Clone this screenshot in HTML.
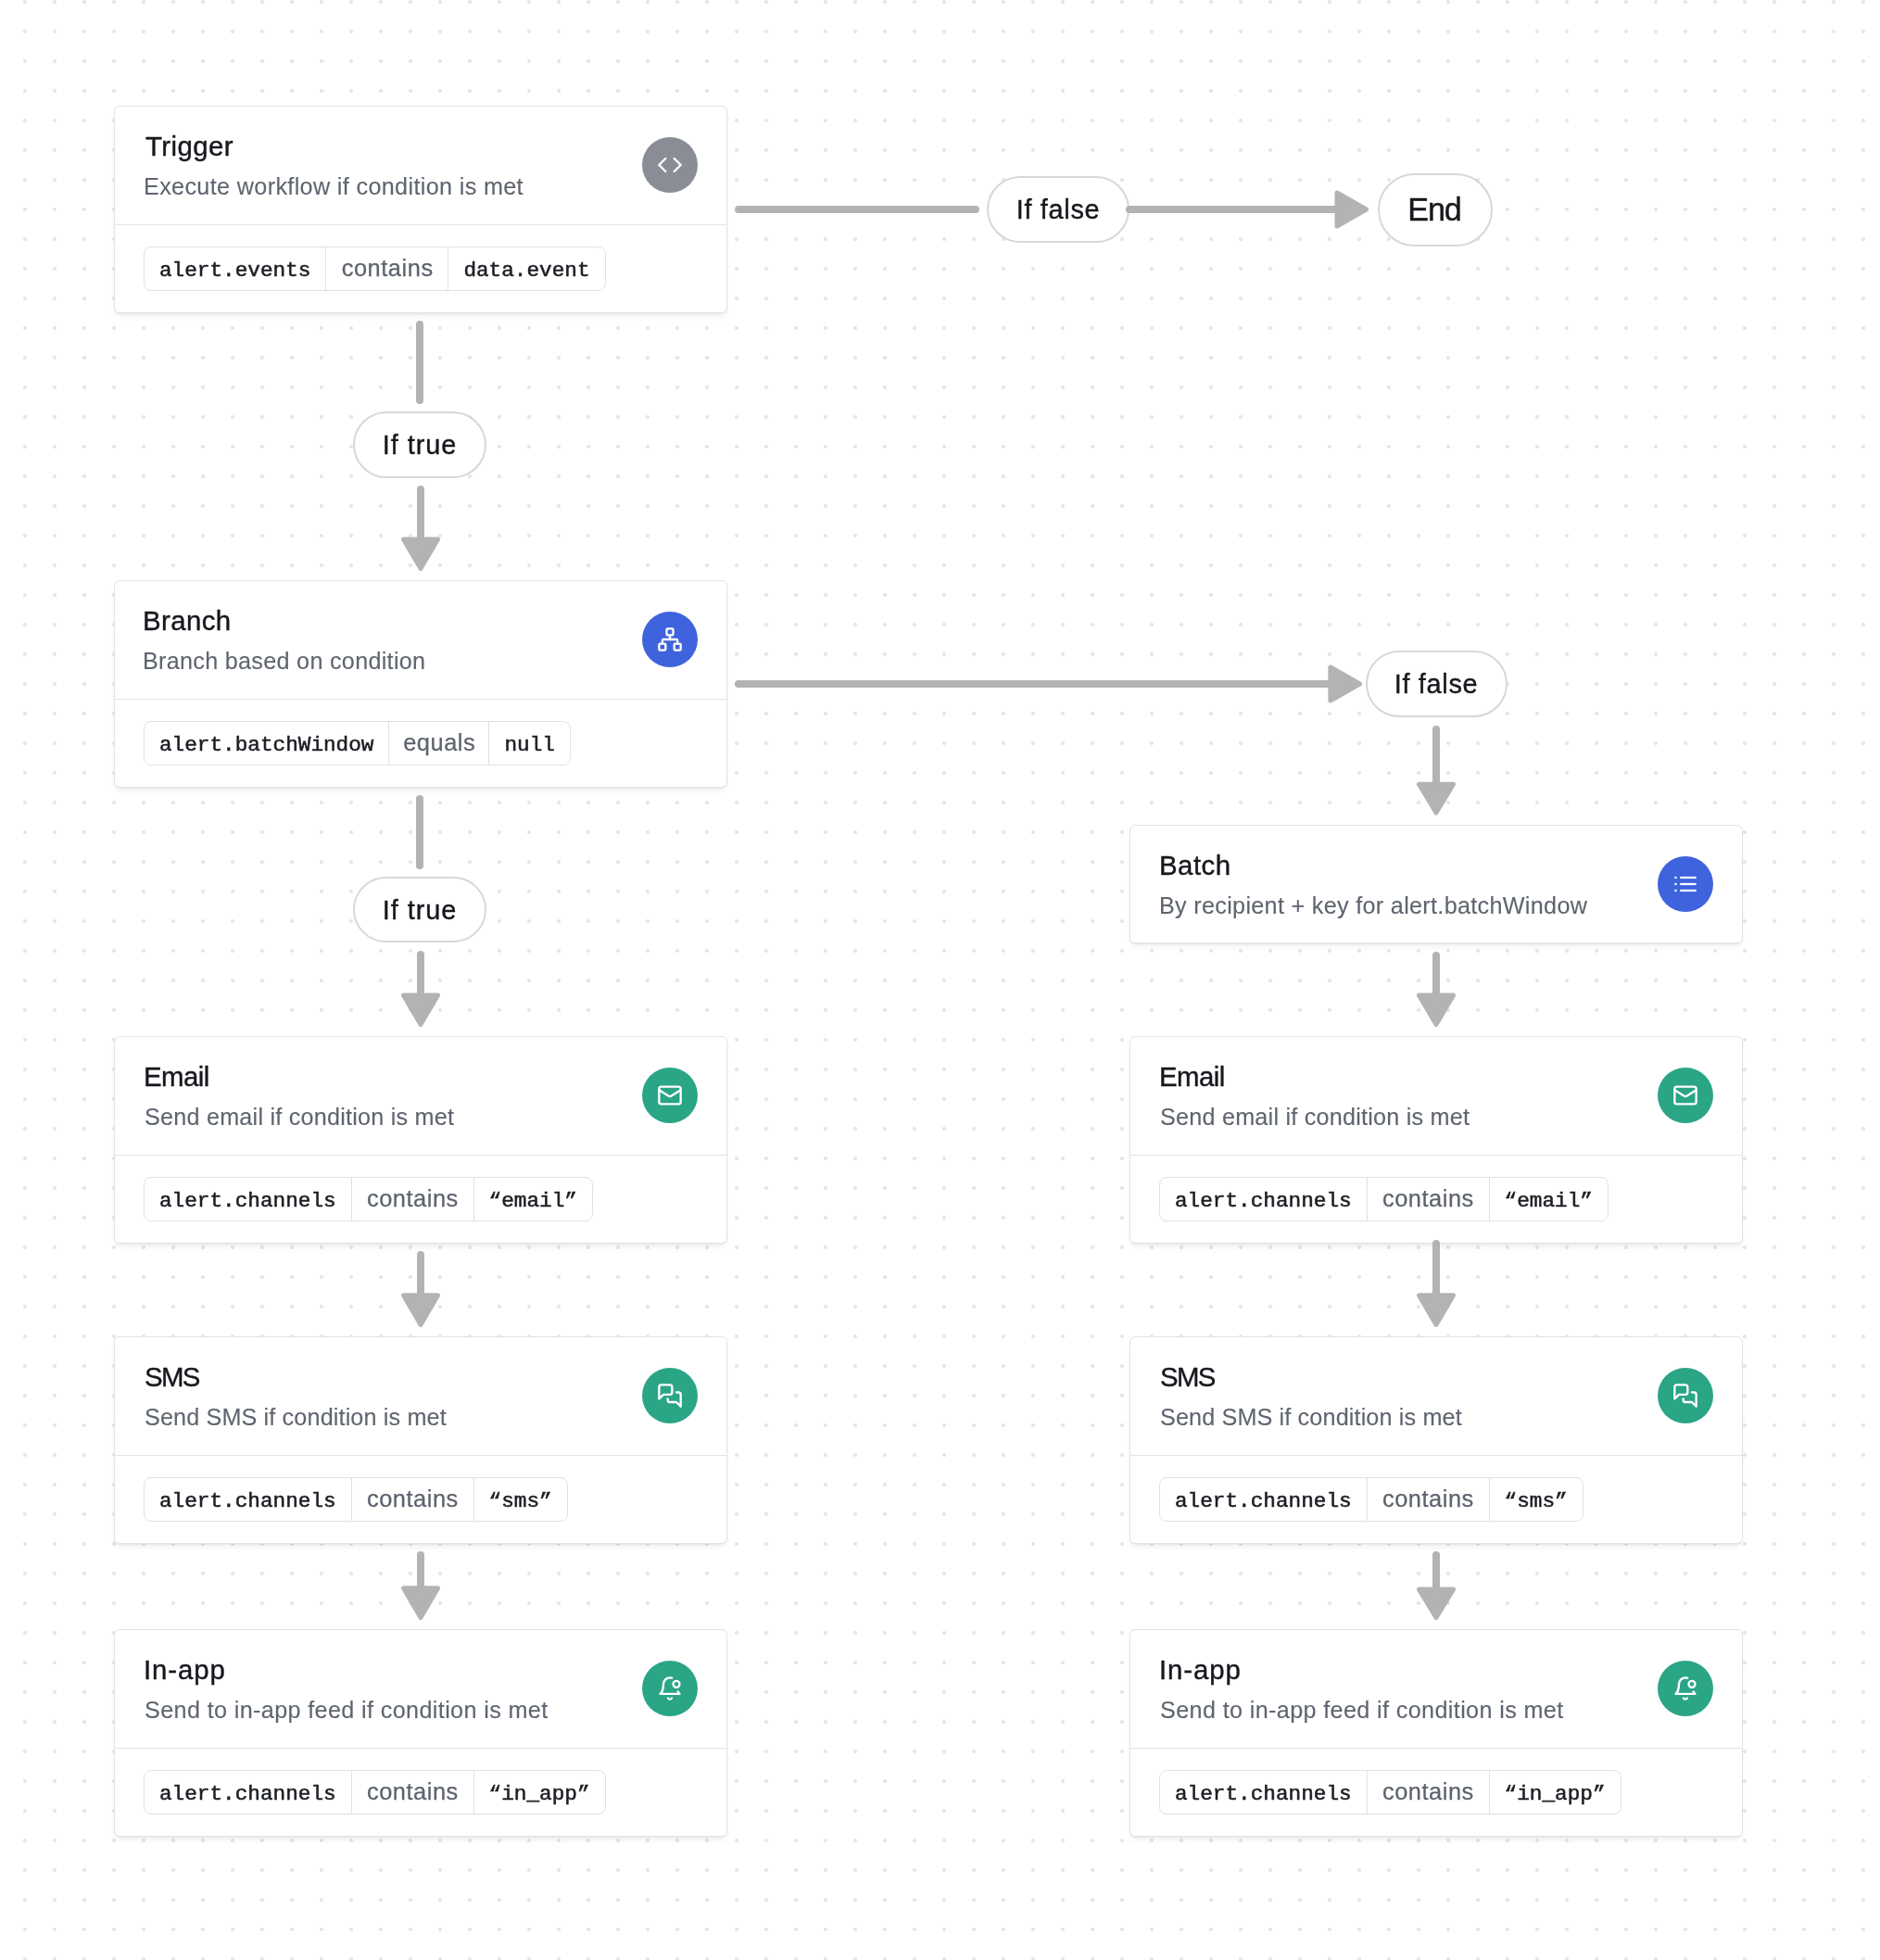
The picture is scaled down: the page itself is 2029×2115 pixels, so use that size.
<!DOCTYPE html>
<html><head><meta charset="utf-8"><title>Workflow</title><style>
html,body{margin:0;padding:0}
body{width:2029px;height:2115px;position:relative;overflow:hidden;background-color:#ffffff;
 background-image:radial-gradient(circle at 16px 16px,#e6e6e9 0,#e6e6e9 1.6px,rgba(230,230,233,0) 2.4px);
 background-size:32px 32px;background-position:11px -14px}
.t{position:absolute;white-space:nowrap;line-height:normal;will-change:transform}
.card{position:absolute;box-sizing:border-box;border:1px solid #e2e3e7;background:#ffffff;border-radius:6px;
 box-shadow:0 1px 1px rgba(0,0,0,0.04),0 5px 6px -2px rgba(0,0,0,0.07)}
.div{position:absolute;height:1px;background:#e2e3e7}
.ic{position:absolute;width:60px;height:60px;border-radius:50%}
.icn{position:absolute}
.pill{position:absolute;box-sizing:border-box;border:1px solid #e0e1e6;border-radius:8px;display:flex;align-items:stretch;background:#fff;will-change:transform}
.seg{display:block;box-sizing:content-box;padding:0 16px;line-height:46px;white-space:nowrap}
.seg.o{padding:0;text-align:center}
.seg+.seg{border-left:1px solid #e0e1e6}
.m{font-family:'Liberation Mono', monospace;font-size:22.7px;color:#1b1e23;font-weight:400;letter-spacing:0.0px;-webkit-text-stroke:0.55px #1b1e23}
.o{font-family:'Liberation Sans', sans-serif;font-size:25.4px;color:#5d636d;letter-spacing:0.55px;text-indent:0.55px;-webkit-text-stroke:0.25px #5d636d}
.lbl{position:absolute;box-sizing:border-box;border:2px solid #d6d7dd;border-radius:40px;background:#fff}
.conn{position:absolute;left:0;top:0}
.ah{stroke-width:5;stroke-linejoin:round}
</style></head>
<body>
<div class="card" style="left:123px;top:114px;width:662px;height:224px"></div>
<div class="div" style="left:124px;top:242px;width:660px"></div>
<div class="t" style="left:156.80px;top:141.39px;font-size:29.4px;letter-spacing:0.433px;color:#16181d;font-family:'Liberation Sans', sans-serif;font-weight:400;-webkit-text-stroke:0.4px #16181d;">Trigger</div>
<div class="t" style="left:155.00px;top:187.19px;font-size:25.2px;letter-spacing:0.344px;color:#5f656f;font-family:'Liberation Sans', sans-serif;font-weight:400;-webkit-text-stroke:0.12px #5f656f;">Execute workflow if condition is met</div>
<div class="ic" style="left:693px;top:148px;background:#8a8d96"></div>
<svg class="icn" style="left:709px;top:164px" width="28" height="28" viewBox="0 0 24 24" fill="none" stroke="#fff" stroke-width="2" stroke-linecap="round" stroke-linejoin="round"><polyline points="16 18 22 12 16 6"/><polyline points="8 6 2 12 8 18"/></svg>
<div class="pill" style="left:155px;top:266px;height:48px"><span class="seg m"><span style="position:relative;top:2.0px">alert.events</span></span><span class="seg o" style="width:131px"><span style="position:relative;top:-1.0px">contains</span></span><span class="seg m"><span style="position:relative;top:2.0px">data.event</span></span></div>
<div class="card" style="left:123px;top:626px;width:662px;height:224px"></div>
<div class="div" style="left:124px;top:754px;width:660px"></div>
<div class="t" style="left:154.20px;top:653.39px;font-size:29.4px;letter-spacing:0.400px;color:#16181d;font-family:'Liberation Sans', sans-serif;font-weight:400;-webkit-text-stroke:0.4px #16181d;">Branch</div>
<div class="t" style="left:154.20px;top:699.19px;font-size:25.2px;letter-spacing:0.283px;color:#5f656f;font-family:'Liberation Sans', sans-serif;font-weight:400;-webkit-text-stroke:0.12px #5f656f;">Branch based on condition</div>
<div class="ic" style="left:693px;top:660px;background:#3f63dd"></div>
<svg class="icn" style="left:709px;top:676px" width="28" height="28" viewBox="0 0 24 24" fill="none" stroke="#fff" stroke-width="2" stroke-linecap="round" stroke-linejoin="round"><rect x="16" y="16" width="6" height="6" rx="1"/><rect x="2" y="16" width="6" height="6" rx="1"/><rect x="9" y="2" width="6" height="6" rx="1"/><path d="M5 16v-3a1 1 0 0 1 1-1h12a1 1 0 0 1 1 1v3"/><path d="M12 12V8"/></svg>
<div class="pill" style="left:155px;top:778px;height:48px"><span class="seg m"><span style="position:relative;top:2.0px">alert.batchWindow</span></span><span class="seg o" style="width:107px"><span style="position:relative;top:-1.0px">equals</span></span><span class="seg m"><span style="position:relative;top:2.0px">null</span></span></div>
<div class="card" style="left:123px;top:1118px;width:662px;height:224px"></div>
<div class="div" style="left:124px;top:1246px;width:660px"></div>
<div class="t" style="left:155.20px;top:1145.39px;font-size:29.4px;letter-spacing:-0.550px;color:#16181d;font-family:'Liberation Sans', sans-serif;font-weight:400;-webkit-text-stroke:0.4px #16181d;">Email</div>
<div class="t" style="left:155.60px;top:1191.19px;font-size:25.2px;letter-spacing:0.219px;color:#5f656f;font-family:'Liberation Sans', sans-serif;font-weight:400;-webkit-text-stroke:0.12px #5f656f;">Send email if condition is met</div>
<div class="ic" style="left:693px;top:1152px;background:#2aa586"></div>
<svg class="icn" style="left:709px;top:1168px" width="28" height="28" viewBox="0 0 24 24" fill="none" stroke="#fff" stroke-width="2" stroke-linecap="round" stroke-linejoin="round"><rect width="20" height="16" x="2" y="4" rx="2"/><path d="m22 7-8.97 5.7a1.94 1.94 0 0 1-2.06 0L2 7"/></svg>
<div class="pill" style="left:155px;top:1270px;height:48px"><span class="seg m"><span style="position:relative;top:2.0px">alert.channels</span></span><span class="seg o" style="width:131px"><span style="position:relative;top:-1.0px">contains</span></span><span class="seg m"><span style="position:relative;top:2.0px">&#8220;email&#8221;</span></span></div>
<div class="card" style="left:123px;top:1442px;width:662px;height:224px"></div>
<div class="div" style="left:124px;top:1570px;width:660px"></div>
<div class="t" style="left:155.60px;top:1469.39px;font-size:29.4px;letter-spacing:-1.700px;color:#16181d;font-family:'Liberation Sans', sans-serif;font-weight:400;-webkit-text-stroke:0.4px #16181d;">SMS</div>
<div class="t" style="left:155.60px;top:1515.19px;font-size:25.2px;letter-spacing:0.135px;color:#5f656f;font-family:'Liberation Sans', sans-serif;font-weight:400;-webkit-text-stroke:0.12px #5f656f;">Send SMS if condition is met</div>
<div class="ic" style="left:693px;top:1476px;background:#2aa586"></div>
<svg class="icn" style="left:709px;top:1492px" width="28" height="28" viewBox="0 0 24 24" fill="none" stroke="#fff" stroke-width="2" stroke-linecap="round" stroke-linejoin="round"><path d="M14 9a2 2 0 0 1-2 2H6l-4 4V4a2 2 0 0 1 2-2h8a2 2 0 0 1 2 2z"/><path d="M18 9h2a2 2 0 0 1 2 2v11l-4-4h-6a2 2 0 0 1-2-2v-1"/></svg>
<div class="pill" style="left:155px;top:1594px;height:48px"><span class="seg m"><span style="position:relative;top:2.0px">alert.channels</span></span><span class="seg o" style="width:131px"><span style="position:relative;top:-1.0px">contains</span></span><span class="seg m"><span style="position:relative;top:2.0px">&#8220;sms&#8221;</span></span></div>
<div class="card" style="left:123px;top:1758px;width:662px;height:224px"></div>
<div class="div" style="left:124px;top:1886px;width:660px"></div>
<div class="t" style="left:154.80px;top:1785.39px;font-size:29.4px;letter-spacing:0.920px;color:#16181d;font-family:'Liberation Sans', sans-serif;font-weight:400;-webkit-text-stroke:0.4px #16181d;">In-app</div>
<div class="t" style="left:155.60px;top:1831.19px;font-size:25.2px;letter-spacing:0.361px;color:#5f656f;font-family:'Liberation Sans', sans-serif;font-weight:400;-webkit-text-stroke:0.12px #5f656f;">Send to in-app feed if condition is met</div>
<div class="ic" style="left:693px;top:1792px;background:#2aa586"></div>
<svg class="icn" style="left:709px;top:1808px" width="28" height="28" viewBox="0 0 24 24" fill="none" stroke="#fff" stroke-width="2" stroke-linecap="round" stroke-linejoin="round"><path d="M19.4 14.9C20.2 16.4 21 17 21 17H3s3-2 3-9c0-3.3 2.7-6 6-6 .7 0 1.3.1 1.9.3"/><path d="M10.3 21a1.94 1.94 0 0 0 3.4 0"/><circle cx="18" cy="8" r="3"/></svg>
<div class="pill" style="left:155px;top:1910px;height:48px"><span class="seg m"><span style="position:relative;top:2.0px">alert.channels</span></span><span class="seg o" style="width:131px"><span style="position:relative;top:-1.0px">contains</span></span><span class="seg m"><span style="position:relative;top:2.0px">&#8220;in_app&#8221;</span></span></div>
<div class="card" style="left:1219px;top:890px;width:662px;height:128px"></div>
<div class="t" style="left:1250.60px;top:917.39px;font-size:29.4px;letter-spacing:0.500px;color:#16181d;font-family:'Liberation Sans', sans-serif;font-weight:400;-webkit-text-stroke:0.4px #16181d;">Batch</div>
<div class="t" style="left:1250.80px;top:963.19px;font-size:25.2px;letter-spacing:0.303px;color:#5f656f;font-family:'Liberation Sans', sans-serif;font-weight:400;-webkit-text-stroke:0.12px #5f656f;">By recipient + key for alert.batchWindow</div>
<div class="ic" style="left:1789px;top:924px;background:#3f63dd"></div>
<svg class="icn" style="left:1805px;top:940px" width="28" height="28" viewBox="0 0 24 24" fill="none" stroke="#fff" stroke-width="2" stroke-linecap="round" stroke-linejoin="round"><g stroke-linecap="square" stroke-width="1.9"><line x1="8" x2="21" y1="6" y2="6"/><line x1="8" x2="21" y1="12" y2="12"/><line x1="8" x2="21" y1="18" y2="18"/><line x1="3" x2="3.01" y1="6" y2="6"/><line x1="3" x2="3.01" y1="12" y2="12"/><line x1="3" x2="3.01" y1="18" y2="18"/></g></svg>
<div class="card" style="left:1219px;top:1118px;width:662px;height:224px"></div>
<div class="div" style="left:1220px;top:1246px;width:660px"></div>
<div class="t" style="left:1251.20px;top:1145.39px;font-size:29.4px;letter-spacing:-0.550px;color:#16181d;font-family:'Liberation Sans', sans-serif;font-weight:400;-webkit-text-stroke:0.4px #16181d;">Email</div>
<div class="t" style="left:1251.60px;top:1191.19px;font-size:25.2px;letter-spacing:0.219px;color:#5f656f;font-family:'Liberation Sans', sans-serif;font-weight:400;-webkit-text-stroke:0.12px #5f656f;">Send email if condition is met</div>
<div class="ic" style="left:1789px;top:1152px;background:#2aa586"></div>
<svg class="icn" style="left:1805px;top:1168px" width="28" height="28" viewBox="0 0 24 24" fill="none" stroke="#fff" stroke-width="2" stroke-linecap="round" stroke-linejoin="round"><rect width="20" height="16" x="2" y="4" rx="2"/><path d="m22 7-8.97 5.7a1.94 1.94 0 0 1-2.06 0L2 7"/></svg>
<div class="pill" style="left:1251px;top:1270px;height:48px"><span class="seg m"><span style="position:relative;top:2.0px">alert.channels</span></span><span class="seg o" style="width:131px"><span style="position:relative;top:-1.0px">contains</span></span><span class="seg m"><span style="position:relative;top:2.0px">&#8220;email&#8221;</span></span></div>
<div class="card" style="left:1219px;top:1442px;width:662px;height:224px"></div>
<div class="div" style="left:1220px;top:1570px;width:660px"></div>
<div class="t" style="left:1251.60px;top:1469.39px;font-size:29.4px;letter-spacing:-1.700px;color:#16181d;font-family:'Liberation Sans', sans-serif;font-weight:400;-webkit-text-stroke:0.4px #16181d;">SMS</div>
<div class="t" style="left:1251.60px;top:1515.19px;font-size:25.2px;letter-spacing:0.135px;color:#5f656f;font-family:'Liberation Sans', sans-serif;font-weight:400;-webkit-text-stroke:0.12px #5f656f;">Send SMS if condition is met</div>
<div class="ic" style="left:1789px;top:1476px;background:#2aa586"></div>
<svg class="icn" style="left:1805px;top:1492px" width="28" height="28" viewBox="0 0 24 24" fill="none" stroke="#fff" stroke-width="2" stroke-linecap="round" stroke-linejoin="round"><path d="M14 9a2 2 0 0 1-2 2H6l-4 4V4a2 2 0 0 1 2-2h8a2 2 0 0 1 2 2z"/><path d="M18 9h2a2 2 0 0 1 2 2v11l-4-4h-6a2 2 0 0 1-2-2v-1"/></svg>
<div class="pill" style="left:1251px;top:1594px;height:48px"><span class="seg m"><span style="position:relative;top:2.0px">alert.channels</span></span><span class="seg o" style="width:131px"><span style="position:relative;top:-1.0px">contains</span></span><span class="seg m"><span style="position:relative;top:2.0px">&#8220;sms&#8221;</span></span></div>
<div class="card" style="left:1219px;top:1758px;width:662px;height:224px"></div>
<div class="div" style="left:1220px;top:1886px;width:660px"></div>
<div class="t" style="left:1250.80px;top:1785.39px;font-size:29.4px;letter-spacing:0.920px;color:#16181d;font-family:'Liberation Sans', sans-serif;font-weight:400;-webkit-text-stroke:0.4px #16181d;">In-app</div>
<div class="t" style="left:1251.60px;top:1831.19px;font-size:25.2px;letter-spacing:0.361px;color:#5f656f;font-family:'Liberation Sans', sans-serif;font-weight:400;-webkit-text-stroke:0.12px #5f656f;">Send to in-app feed if condition is met</div>
<div class="ic" style="left:1789px;top:1792px;background:#2aa586"></div>
<svg class="icn" style="left:1805px;top:1808px" width="28" height="28" viewBox="0 0 24 24" fill="none" stroke="#fff" stroke-width="2" stroke-linecap="round" stroke-linejoin="round"><path d="M19.4 14.9C20.2 16.4 21 17 21 17H3s3-2 3-9c0-3.3 2.7-6 6-6 .7 0 1.3.1 1.9.3"/><path d="M10.3 21a1.94 1.94 0 0 0 3.4 0"/><circle cx="18" cy="8" r="3"/></svg>
<div class="pill" style="left:1251px;top:1910px;height:48px"><span class="seg m"><span style="position:relative;top:2.0px">alert.channels</span></span><span class="seg o" style="width:131px"><span style="position:relative;top:-1.0px">contains</span></span><span class="seg m"><span style="position:relative;top:2.0px">&#8220;in_app&#8221;</span></span></div>
<div class="lbl" style="left:381px;top:444px;width:144px;height:71.5px"></div><div class="t" style="left:453.00px;top:463.72px;font-size:28.9px;letter-spacing:0.967px;color:#16181d;font-family:'Liberation Sans', sans-serif;font-weight:400;-webkit-text-stroke:0.4px #16181d;transform:translateX(-50%);">If true</div>
<div class="lbl" style="left:381px;top:946.3px;width:144px;height:71px"></div><div class="t" style="left:453.00px;top:966.02px;font-size:28.9px;letter-spacing:0.967px;color:#16181d;font-family:'Liberation Sans', sans-serif;font-weight:400;-webkit-text-stroke:0.4px #16181d;transform:translateX(-50%);">If true</div>
<div class="lbl" style="left:1065px;top:190.2px;width:154px;height:71.5px"></div><div class="t" style="left:1142.00px;top:210.02px;font-size:28.9px;letter-spacing:0.686px;color:#16181d;font-family:'Liberation Sans', sans-serif;font-weight:400;-webkit-text-stroke:0.4px #16181d;transform:translateX(-50%);">If false</div>
<div class="lbl" style="left:1473.5px;top:702px;width:153px;height:71.5px"></div><div class="t" style="left:1550.00px;top:721.72px;font-size:28.9px;letter-spacing:0.686px;color:#16181d;font-family:'Liberation Sans', sans-serif;font-weight:400;-webkit-text-stroke:0.4px #16181d;transform:translateX(-50%);">If false</div>
<div class="lbl" style="left:1487px;top:186.5px;width:124px;height:79px"></div><div class="t" style="left:1548.00px;top:207.00px;font-size:34.2px;letter-spacing:-1.100px;color:#16181d;font-family:'Liberation Sans', sans-serif;font-weight:400;-webkit-text-stroke:0.4px #16181d;transform:translateX(-50%);">End</div>
<svg class="conn" width="2029" height="2115" viewBox="0 0 2029 2115"><g stroke="#b3b3b3" stroke-width="8" stroke-linecap="round" fill="#b3b3b3"><line x1="453" y1="350" x2="453" y2="432"/><line x1="454" y1="528" x2="454" y2="582"/><polygon class="ah" points="435.5,582.0 472.5,582.0 454,613.5"/><line x1="453" y1="862" x2="453" y2="934"/><line x1="454" y1="1030" x2="454" y2="1075"/><polygon class="ah" points="435.5,1074.0 472.5,1074.0 454,1105.5"/><line x1="454" y1="1354" x2="454" y2="1398"/><polygon class="ah" points="435.5,1397.8 472.5,1397.8 454,1429.5"/><line x1="454" y1="1678" x2="454" y2="1714"/><polygon class="ah" points="435.5,1713.8 472.5,1713.8 454,1745.5"/><line x1="797" y1="226" x2="1053" y2="226"/><line x1="1219" y1="226" x2="1444" y2="226"/><polygon class="ah" points="1443.0,208 1443.0,244 1474.5,226"/><line x1="797" y1="738" x2="1436" y2="738"/><polygon class="ah" points="1435.9,720 1435.9,756 1467.5,738"/><line x1="1550" y1="787" x2="1550" y2="846"/><polygon class="ah" points="1531.5,846.3 1568.5,846.3 1550,877.0"/><line x1="1550" y1="1031" x2="1550" y2="1074"/><polygon class="ah" points="1531.5,1074.0 1568.5,1074.0 1550,1105.5"/><line x1="1550" y1="1342" x2="1550" y2="1398"/><polygon class="ah" points="1531.5,1397.8 1568.5,1397.8 1550,1429.5"/><line x1="1550" y1="1678" x2="1550" y2="1714"/><polygon class="ah" points="1531.5,1715.1 1568.5,1715.1 1550,1745.5"/></g></svg>
</body></html>
